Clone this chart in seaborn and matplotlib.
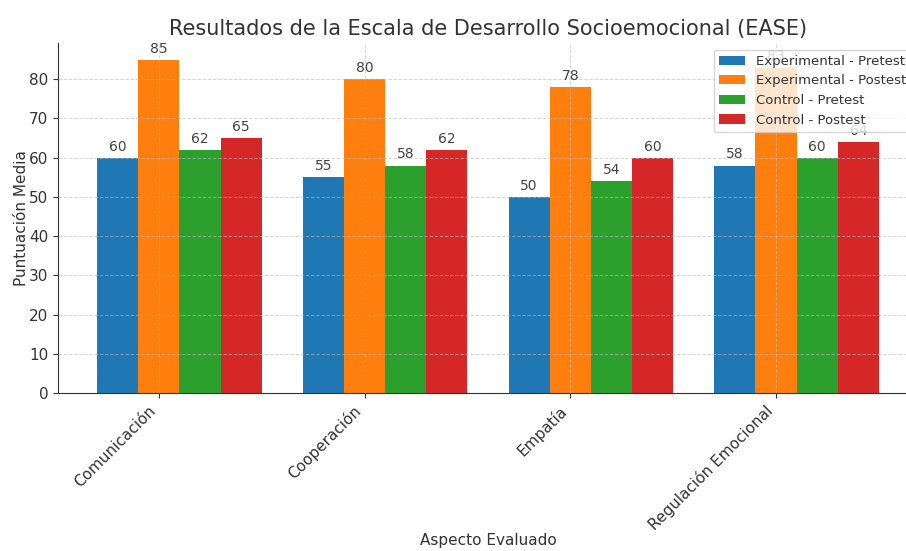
import matplotlib
matplotlib.use("Agg")
import matplotlib.pyplot as plt
import seaborn as sns
import pandas as pd

aspectos = ["Comunicación", "Cooperación", "Empatía", "Regulación Emocional"]
grupos = ["Experimental - Pretest", "Experimental - Postest", "Control - Pretest", "Control - Postest"]
exp_pre = [60, 55, 50, 58]
exp_post = [85, 80, 78, 83]
ctrl_pre = [62, 58, 54, 60]
ctrl_post = [65, 62, 60, 64]
colores = ["#1f77b4", "#ff7f0e", "#2ca02c", "#d62728"]

rows = []
for g, vals in zip(grupos, [exp_pre, exp_post, ctrl_pre, ctrl_post]):
    for a, v in zip(aspectos, vals):
        rows.append({"Aspecto": a, "Grupo": g, "Puntuación": v})
df = pd.DataFrame(rows)

sns.set_style("ticks")
plt.rcParams["font.family"] = ["DejaVu Sans"]
plt.rcParams["text.color"] = "#333333"
plt.rcParams["axes.labelcolor"] = "#333333"
plt.rcParams["xtick.color"] = "#333333"
plt.rcParams["ytick.color"] = "#333333"
plt.rcParams["axes.edgecolor"] = "#333333"

fig = plt.figure(figsize=(9.06, 5.51), dpi=100)
ax = fig.add_axes([58/906, (551-393)/551, 860/906, 350/551])
sns.barplot(data=df, x="Aspecto", y="Puntuación", hue="Grupo", hue_order=grupos,
            palette=colores, saturation=1, linewidth=0, ax=ax, width=0.8)

for cont in ax.containers:
    ax.bar_label(cont, padding=3, fontsize=10, color="#444444")

ax.set_xticks([i - 0.1 for i in range(len(aspectos))])
ax.set_xticklabels(aspectos, rotation=45, ha="right", fontsize=11)
ax.set_xlim(-0.59, 3.59)
ax.set_ylim(0, 89.25)
ax.set_yticks(range(0, 81, 10))
ax.tick_params(axis="y", labelsize=11)
ax.set_axisbelow(False)
ax.grid(True, linestyle="--", color="#bbbbbb", linewidth=0.7, alpha=0.6)
ax.set_xlabel("Aspecto Evaluado", fontsize=11, labelpad=0)
ax.set_ylabel("Puntuación Media", fontsize=11, labelpad=0)
ax.set_title("Resultados de la Escala de Desarrollo Socioemocional (EASE)", fontsize=15, color="#333333")
sns.despine(ax=ax, top=True, right=False)
leg = ax.legend(loc="upper right", fontsize=9.5, framealpha=0.8)
leg.set_zorder(5)

fig.savefig("out.png", dpi=100)
